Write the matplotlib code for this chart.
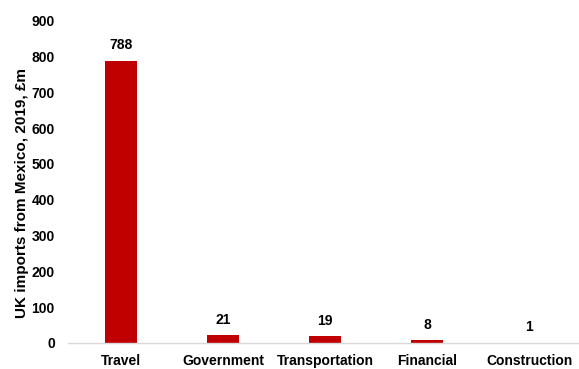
import numpy as np
import matplotlib.pyplot as plt

# データ
categories = ["Travel", "Government", "Transportation", "Financial", "Construction"]
values = [788, 21, 19, 8, 1]
yticks = [0, 100, 200, 300, 400, 500, 600, 700, 800, 900]

plt.rcParams['font.family'] = ['Liberation Sans', 'DejaVu Sans']

fig = plt.figure(figsize=(5.79, 3.69), dpi=100)
ax = fig.add_axes([0.1174, 0.0705, 0.8826, 0.8735])

x = np.arange(len(categories))
bars = ax.bar(x, values, width=0.31, color="#c00000", zorder=2)

# 値ラベル
for xi, v in zip(x, values):
    ax.annotate(str(v), (xi, v), xytext=(0, 6), textcoords="offset points",
                ha="center", va="bottom", fontsize=10, fontweight="bold")

ax.set_xlim(-0.52, 4.49)
ax.set_ylim(0, 900)
ax.set_yticks(yticks)
ax.set_xticks(x)
ax.set_xticklabels(categories, fontsize=10, fontweight="bold")
ax.tick_params(axis="y", labelsize=10, length=0, pad=9.5)
ax.tick_params(axis="x", length=0, pad=8)
for lbl in ax.get_yticklabels():
    lbl.set_fontweight("bold")

ax.set_ylabel("UK imports from Mexico, 2019, £m", fontsize=11, fontweight="bold")
ax.yaxis.set_label_coords(-0.076, 0.465)

for s in ["top", "right", "left"]:
    ax.spines[s].set_visible(False)
ax.spines["bottom"].set_color("#d9d9d9")
ax.spines["bottom"].set_linewidth(1)

plt.savefig("out.png", dpi=100)
